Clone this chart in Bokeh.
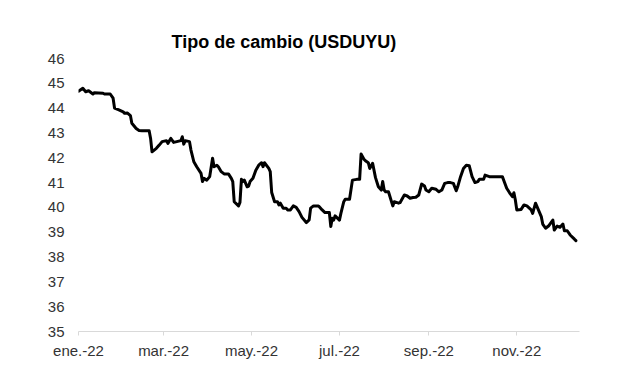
from bokeh.plotting import figure
from bokeh.models import FixedTicker, Range1d
from bokeh.embed import file_html
from bokeh.resources import INLINE

# Day offsets from 2022-01-01 and USD/UYU exchange rate values
days = [0, 3, 5, 7, 10, 11, 17, 18, 22, 24, 25, 28, 31, 32, 34, 36, 37, 40, 42, 44,
        49, 50, 51, 54, 56, 58, 61, 62, 64, 66, 71, 72, 73, 74, 77, 78, 80, 82, 85, 86,
        87, 89, 91, 93, 94, 96, 97, 99, 101, 104, 106, 107, 108, 111, 112, 113, 114, 115, 117, 118,
        119, 121, 123, 125, 127, 128, 129, 132, 133, 134, 136, 138, 139, 140, 142, 144, 145, 147, 149, 151,
        153, 155, 158, 160, 161, 163, 166, 167, 169, 171, 174, 175, 176, 177, 178, 181, 182, 184, 185, 188,
        190, 193, 195, 196, 198, 199, 201, 202, 204, 206, 208, 210, 211, 212, 213, 215, 218, 219, 222, 223,
        226, 228, 230, 232, 234, 236, 238, 240, 241, 243, 245, 248, 250, 252, 254, 256, 258, 260, 262, 263,
        265, 267, 269, 271, 273, 275, 277, 278, 281, 282, 285, 294, 295, 297, 299, 301, 302, 303, 304, 307,
        309, 311, 314, 315, 317, 319, 321, 322, 324, 326, 329, 330, 332, 334, 336, 337, 339, 341, 344, 345]
rate = [44.68, 44.80, 44.66, 44.70, 44.57, 44.62, 44.60, 44.57, 44.57, 44.40, 44.00, 43.93, 43.85, 43.79, 43.80, 43.70, 43.39, 43.18, 43.10, 43.09,
        43.09, 42.78, 42.24, 42.38, 42.51, 42.65, 42.69, 42.58, 42.78, 42.62, 42.69, 42.85, 42.55, 42.69, 42.65, 42.31, 41.84, 41.64, 41.37, 41.04,
        41.17, 41.10, 41.24, 41.98, 41.64, 41.70, 41.64, 41.44, 41.35, 41.35, 41.17, 41.04, 40.23, 40.06, 40.20, 41.13, 41.04, 41.10, 40.83, 40.86,
        41.04, 41.17, 41.50, 41.70, 41.80, 41.64, 41.80, 41.57, 41.44, 40.60, 40.23, 40.23, 40.10, 40.17, 39.97, 39.97, 39.90, 39.90, 40.06, 40.00,
        39.83, 39.60, 39.39, 39.50, 39.97, 40.06, 40.06, 40.03, 39.90, 39.79, 39.79, 39.23, 39.56, 39.49, 39.66, 39.49, 39.76, 40.23, 40.33, 40.33,
        41.10, 41.13, 41.13, 42.15, 41.94, 41.88, 41.80, 41.57, 41.78, 41.20, 40.83, 40.70, 41.04, 40.70, 40.63, 40.63, 40.06, 40.23, 40.17, 40.19,
        40.50, 40.46, 40.37, 40.40, 40.41, 40.50, 40.94, 40.86, 40.70, 40.63, 40.77, 40.73, 40.63, 40.70, 40.97, 41.00, 41.00, 40.97, 40.67, 40.83,
        41.24, 41.57, 41.70, 41.68, 41.24, 41.00, 41.04, 41.13, 41.13, 41.30, 41.24, 41.24, 41.08, 40.77, 40.59, 40.43, 40.59, 40.30, 39.90, 39.92,
        40.10, 40.06, 39.90, 39.76, 40.17, 39.90, 39.63, 39.33, 39.16, 39.25, 39.49, 39.09, 39.25, 39.20, 39.33, 39.06, 39.06, 38.89, 38.72, 38.66]

tick_days = [0, 59, 120, 181, 243, 304]
tick_labels = ["ene.-22", "mar.-22", "may.-22", "jul.-22", "sep.-22", "nov.-22"]
y_ticks = list(range(35, 47))

FONT = "Liberation Sans"

p = figure(width=601, height=365, output_backend="svg", toolbar_location=None,
           x_range=Range1d(0, 347.5), y_range=Range1d(35, 46),
           min_border_left=78, min_border_right=22, min_border_bottom=34, min_border_top=58,
           title="Tipo de cambio (USDUYU)")

p.title.text_font = FONT
p.title.text_font_size = "18px"
p.title.text_font_style = "bold"
p.title.text_color = "#000000"
p.title.align = "left"
p.title.offset = 93
p.title.standoff = 14

p.outline_line_color = None
p.xgrid.grid_line_color = None
p.ygrid.grid_line_color = None

p.line(days, rate, line_color="black", line_width=3, line_join="round", line_cap="round")

xa = p.xaxis[0]
xa.ticker = FixedTicker(ticks=tick_days)
xa.major_label_overrides = {d: l for d, l in zip(tick_days, tick_labels)}
xa.minor_tick_line_color = None
xa.axis_line_color = "#d9d9d9"
xa.major_tick_line_color = "#d9d9d9"
xa.major_tick_in = 0
xa.major_tick_out = 4
xa.major_label_standoff = 6
xa.major_label_text_font = FONT
xa.major_label_text_font_size = "15px"
xa.major_label_text_color = "#333333"

ya = p.yaxis[0]
ya.ticker = FixedTicker(ticks=y_ticks)
ya.axis_line_color = None
ya.major_tick_line_color = None
ya.minor_tick_line_color = None
ya.major_tick_in = 0
ya.major_tick_out = 0
ya.major_label_standoff = 14
ya.major_label_text_font = FONT
ya.major_label_text_font_size = "15px"
ya.major_label_text_color = "#333333"

open("out.html", "w").write(file_html(p, INLINE))
